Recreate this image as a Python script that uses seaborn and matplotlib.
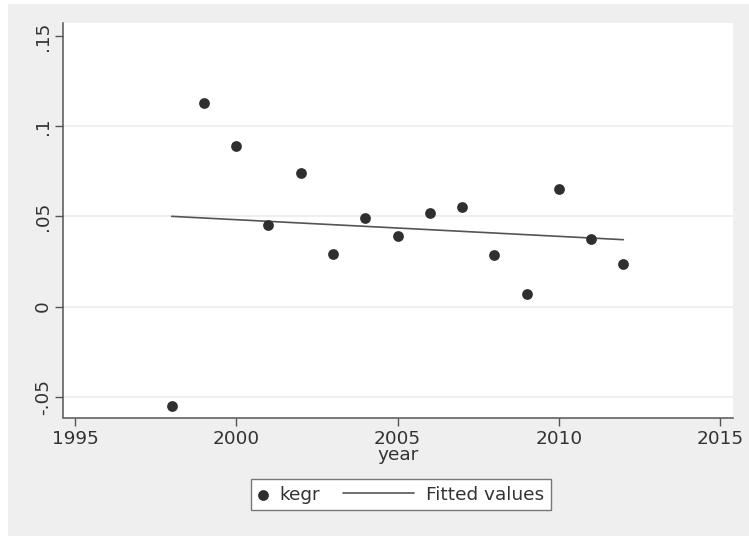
import numpy as np
import pandas as pd
import matplotlib
matplotlib.use("Agg")
import matplotlib.pyplot as plt
from matplotlib.patches import Rectangle
from matplotlib.legend_handler import HandlerLine2D
import seaborn as sns

# Annual growth series
years = [1998, 1999, 2000, 2001, 2002, 2003, 2004, 2005,
         2006, 2007, 2008, 2009, 2010, 2011, 2012]
kegr = [-0.0553, 0.1131, 0.0890, 0.0454, 0.0741, 0.0294, 0.0493, 0.0391,
        0.0521, 0.0552, 0.0285, 0.0071, 0.0653, 0.0372, 0.0234]

x_ticks = [1995, 2000, 2005, 2010, 2015]
x_tick_labels = ["1995", "2000", "2005", "2010", "2015"]
y_ticks = [-0.05, 0.0, 0.05, 0.10, 0.15]
y_tick_labels = ["-.05", "0", ".05", ".1", ".15"]
grid_levels = [-0.05, 0.0, 0.05, 0.10]

df = pd.DataFrame({"year": years, "kegr": kegr})

sns.set_theme(style="white")
plt.rcParams["font.family"] = ["DejaVu Sans"]

TEXT = "#333333"
AXIS = "#555555"
W, H = 749, 536
fig = plt.figure(figsize=(W / 100, H / 100), dpi=100)
fig.patch.set_facecolor("white")
fig.patches.append(Rectangle((8.3 / W, 0), 1 - 8.3 / W, 1 - 4.3 / H,
                             transform=fig.transFigure, facecolor="#efefef",
                             edgecolor="none", zorder=-10))

left, right = 63.3 / W, 732.7 / W
bottom, top = 1 - 417.5 / H, 1 - 23.3 / H
ax = fig.add_axes([left, bottom, right - left, top - bottom])
ax.set_facecolor("white")

for g in grid_levels:
    ax.axhline(g, color="#ebebeb", lw=1.1, zorder=0)

sns.scatterplot(data=df, x="year", y="kegr", ax=ax, color="#2f2f2f",
                s=60, linewidth=0, label="kegr", zorder=3)
sns.regplot(data=df, x="year", y="kegr", ax=ax, scatter=False, ci=None,
            truncate=True, label="Fitted values",
            line_kws={"color": "#555555", "lw": 1.2, "zorder": 2})

ax.set_xlim(1994.64, 2015.39)
ax.set_ylim(-0.0615, 0.157)
ax.set_xticks(x_ticks)
ax.set_xticklabels(x_tick_labels)
ax.set_yticks(y_ticks)
ax.set_yticklabels(y_tick_labels, rotation=90, va="center")

fs = 13.3
ax.tick_params(axis="both", which="major", direction="out", length=5.8,
               width=1.0, color=AXIS, labelcolor=TEXT, labelsize=fs,
               left=True, bottom=True)
ax.tick_params(axis="y", pad=2.5)
ax.tick_params(axis="x", pad=3)

for side in ["top", "right"]:
    ax.spines[side].set_visible(False)
for side in ["left", "bottom"]:
    ax.spines[side].set_color(AXIS)
    ax.spines[side].set_linewidth(1.1)

ax.set_xlabel("year", fontsize=fs, color=TEXT, labelpad=-1)
ax.set_ylabel("")


class LongLineHandler(HandlerLine2D):
    """Draws the line sample reaching left of its handle box."""
    def create_artists(self, legend, orig_handle, xdescent, ydescent,
                       width, height, fontsize, trans):
        ext = 3.3 * fontsize
        return super().create_artists(legend, orig_handle, xdescent + ext,
                                      ydescent, width + ext, height,
                                      fontsize, trans)


handles, labels = ax.get_legend_handles_labels()
line_handle = handles[1]
leg = ax.legend(handles, labels, ncol=2, loc="center",
                bbox_to_anchor=(401 / W, 1 - 494.5 / H),
                bbox_transform=fig.transFigure,
                fontsize=fs, frameon=True, fancybox=False, framealpha=1,
                edgecolor="#777777", facecolor="white",
                handlelength=0.5, handletextpad=0.66, columnspacing=4.55,
                borderpad=0.37, borderaxespad=0,
                handler_map={line_handle: LongLineHandler()})
leg.get_frame().set_linewidth(1.0)
for t in leg.get_texts():
    t.set_color(TEXT)

fig.savefig("out.png", dpi=100, facecolor=fig.get_facecolor())
